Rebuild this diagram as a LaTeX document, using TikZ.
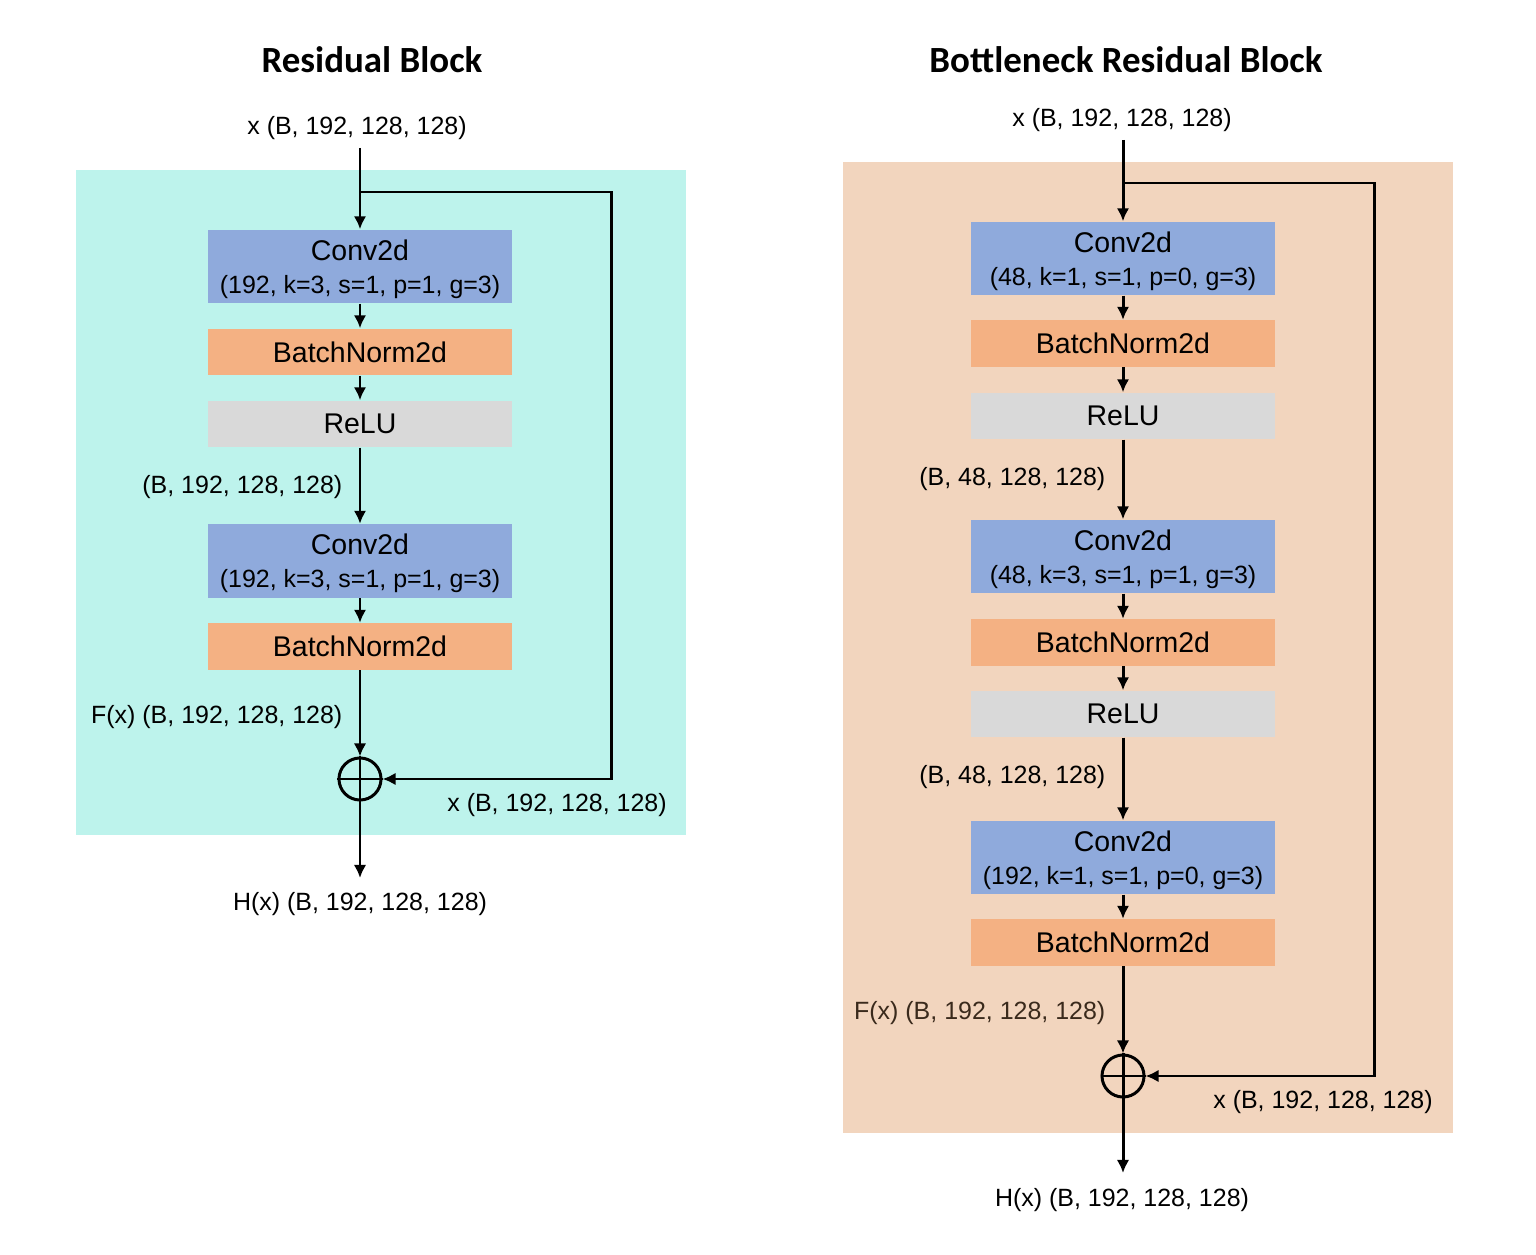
\documentclass[tikz,border=0pt]{standalone}
\usepackage{fontspec}
\setmainfont{Liberation Sans}
\newfontfamily\titlefont{Carlito}
\usetikzlibrary{arrows.meta, positioning}
\definecolor{resbg}{HTML}{BDF3EC}
\definecolor{botbg}{HTML}{F2D5BE}
\definecolor{convfill}{HTML}{8FAADC}
\definecolor{bnfill}{HTML}{F4B183}
\definecolor{relufill}{HTML}{D9D9D9}
\definecolor{browntext}{HTML}{3A2A1C}
\newcommand{\lblsz}{\fontsize{7.1}{9.4}\selectfont}
\newcommand{\boxsz}{\fontsize{8.1}{9.4}\selectfont}

\begin{document}
\begin{tikzpicture}[x=0.01cm, y=-0.01cm,
		layer/.style={rectangle, minimum width=3.04cm, inner sep=0pt, align=center, font=\boxsz},
		conv/.style={layer, fill=convfill, minimum height=0.73cm, text depth=0pt},
		bn/.style={layer, fill=bnfill, minimum height=0.46cm},
		relu/.style={layer, fill=relufill, minimum height=0.46cm},
		shape lbl/.style={font=\lblsz, inner sep=0pt, text depth=0pt},
		add/.style={circle, draw, line width=0.85pt, minimum size=0.42cm, inner sep=0pt},
		flow/.style={-{Latex[length=1.3mm, width=1.25mm]}, line width=0.85pt}]
		\useasboundingbox (0, 0) rectangle (1536, 1255);
		% backgrounds
		\fill[resbg] (76, 170) rectangle (686, 835);
		\fill[botbg] (843, 162) rectangle (1453, 1133);

		% residual block
		\node[font=\titlefont\bfseries\fontsize{10.5}{12}\selectfont] (rb_title) at (372, 60) {Residual Block};
		\node[shape lbl] (rb_in) at (357, 125) {x (B, 192, 128, 128)};
		\node[conv] (rb_conv1) at (360, 266.5) {Conv2d\\{\lblsz (192, k=3, s=1, p=1, g=3)}};
		\node[bn] (rb_bn1) at (360, 352) {BatchNorm2d};
		\node[relu] (rb_relu1) at (360, 424) {ReLU};
		\node[conv] (rb_conv2) at (360, 561) {Conv2d\\{\lblsz (192, k=3, s=1, p=1, g=3)}};
		\node[bn] (rb_bn2) at (360, 646.5) {BatchNorm2d};
		\node[add] (rb_add) at (360, 779) {};
		\node[shape lbl, anchor=east] (rb_s1) at (343, 484) {(B, 192, 128, 128)};
		\node[shape lbl, anchor=east] (rb_fx) at (343, 714) {F(x) (B, 192, 128, 128)};
		\node[shape lbl] (rb_skip) at (557, 802) {x (B, 192, 128, 128)};
		\node[shape lbl] (rb_out) at (360, 901) {H(x) (B, 192, 128, 128)};
		\coordinate (rb_top) at (360, 148);
		\coordinate (rb_split) at (360, 192);
		\coordinate (rb_end) at (360, 878);
		\draw[flow] (rb_top) -- (rb_conv1);
		\draw[flow] (rb_conv1) -- (rb_bn1);
		\draw[flow] (rb_bn1) -- (rb_relu1);
		\draw[flow] (rb_relu1) -- (rb_conv2);
		\draw[flow] (rb_conv2) -- (rb_bn2);
		\draw[flow] (rb_bn2) -- (rb_add);
		\draw[flow] (rb_split) -- (611, 192) |- (rb_add);
		\draw[line width=0.85pt] (rb_add.north) -- (rb_add.south) (rb_add.west) -- (rb_add.east);
		\draw[flow] (rb_add.south) -- (rb_end);

		% bottleneck residual block
		\node[font=\titlefont\bfseries\fontsize{10.5}{12}\selectfont] (bb_title) at (1126, 60) {Bottleneck Residual Block};
		\node[shape lbl] (bb_in) at (1122, 117) {x (B, 192, 128, 128)};
		\node[conv] (bb_conv1) at (1123, 258.5) {Conv2d\\{\lblsz (48, k=1, s=1, p=0, g=3)}};
		\node[bn] (bb_bn1) at (1123, 343.5) {BatchNorm2d};
		\node[relu] (bb_relu1) at (1123, 416) {ReLU};
		\node[conv] (bb_conv2) at (1123, 556.5) {Conv2d\\{\lblsz (48, k=3, s=1, p=1, g=3)}};
		\node[bn] (bb_bn2) at (1123, 642.5) {BatchNorm2d};
		\node[relu] (bb_relu2) at (1123, 714) {ReLU};
		\node[conv] (bb_conv3) at (1123, 857.5) {Conv2d\\{\lblsz (192, k=1, s=1, p=0, g=3)}};
		\node[bn] (bb_bn3) at (1123, 942.5) {BatchNorm2d};
		\node[add] (bb_add) at (1123, 1076) {};
		\node[shape lbl, anchor=east] (bb_s1) at (1106, 476) {(B, 48, 128, 128)};
		\node[shape lbl, anchor=east] (bb_s2) at (1106, 774) {(B, 48, 128, 128)};
		\node[shape lbl, anchor=east, text=browntext] (bb_fx) at (1106, 1010) {F(x) (B, 192, 128, 128)};
		\node[shape lbl] (bb_skip) at (1323, 1099) {x (B, 192, 128, 128)};
		\node[shape lbl] (bb_out) at (1122, 1197) {H(x) (B, 192, 128, 128)};
		\coordinate (bb_top) at (1123, 140);
		\coordinate (bb_split) at (1123, 183);
		\coordinate (bb_end) at (1123, 1173);
		\draw[flow] (bb_top) -- (bb_conv1);
		\draw[flow] (bb_conv1) -- (bb_bn1);
		\draw[flow] (bb_bn1) -- (bb_relu1);
		\draw[flow] (bb_relu1) -- (bb_conv2);
		\draw[flow] (bb_conv2) -- (bb_bn2);
		\draw[flow] (bb_bn2) -- (bb_relu2);
		\draw[flow] (bb_relu2) -- (bb_conv3);
		\draw[flow] (bb_conv3) -- (bb_bn3);
		\draw[flow] (bb_bn3) -- (bb_add);
		\draw[flow] (bb_split) -- (1374, 183) |- (bb_add);
		\draw[line width=0.85pt] (bb_add.north) -- (bb_add.south) (bb_add.west) -- (bb_add.east);
		\draw[flow] (bb_add.south) -- (bb_end);
	\end{tikzpicture}
\end{document}
